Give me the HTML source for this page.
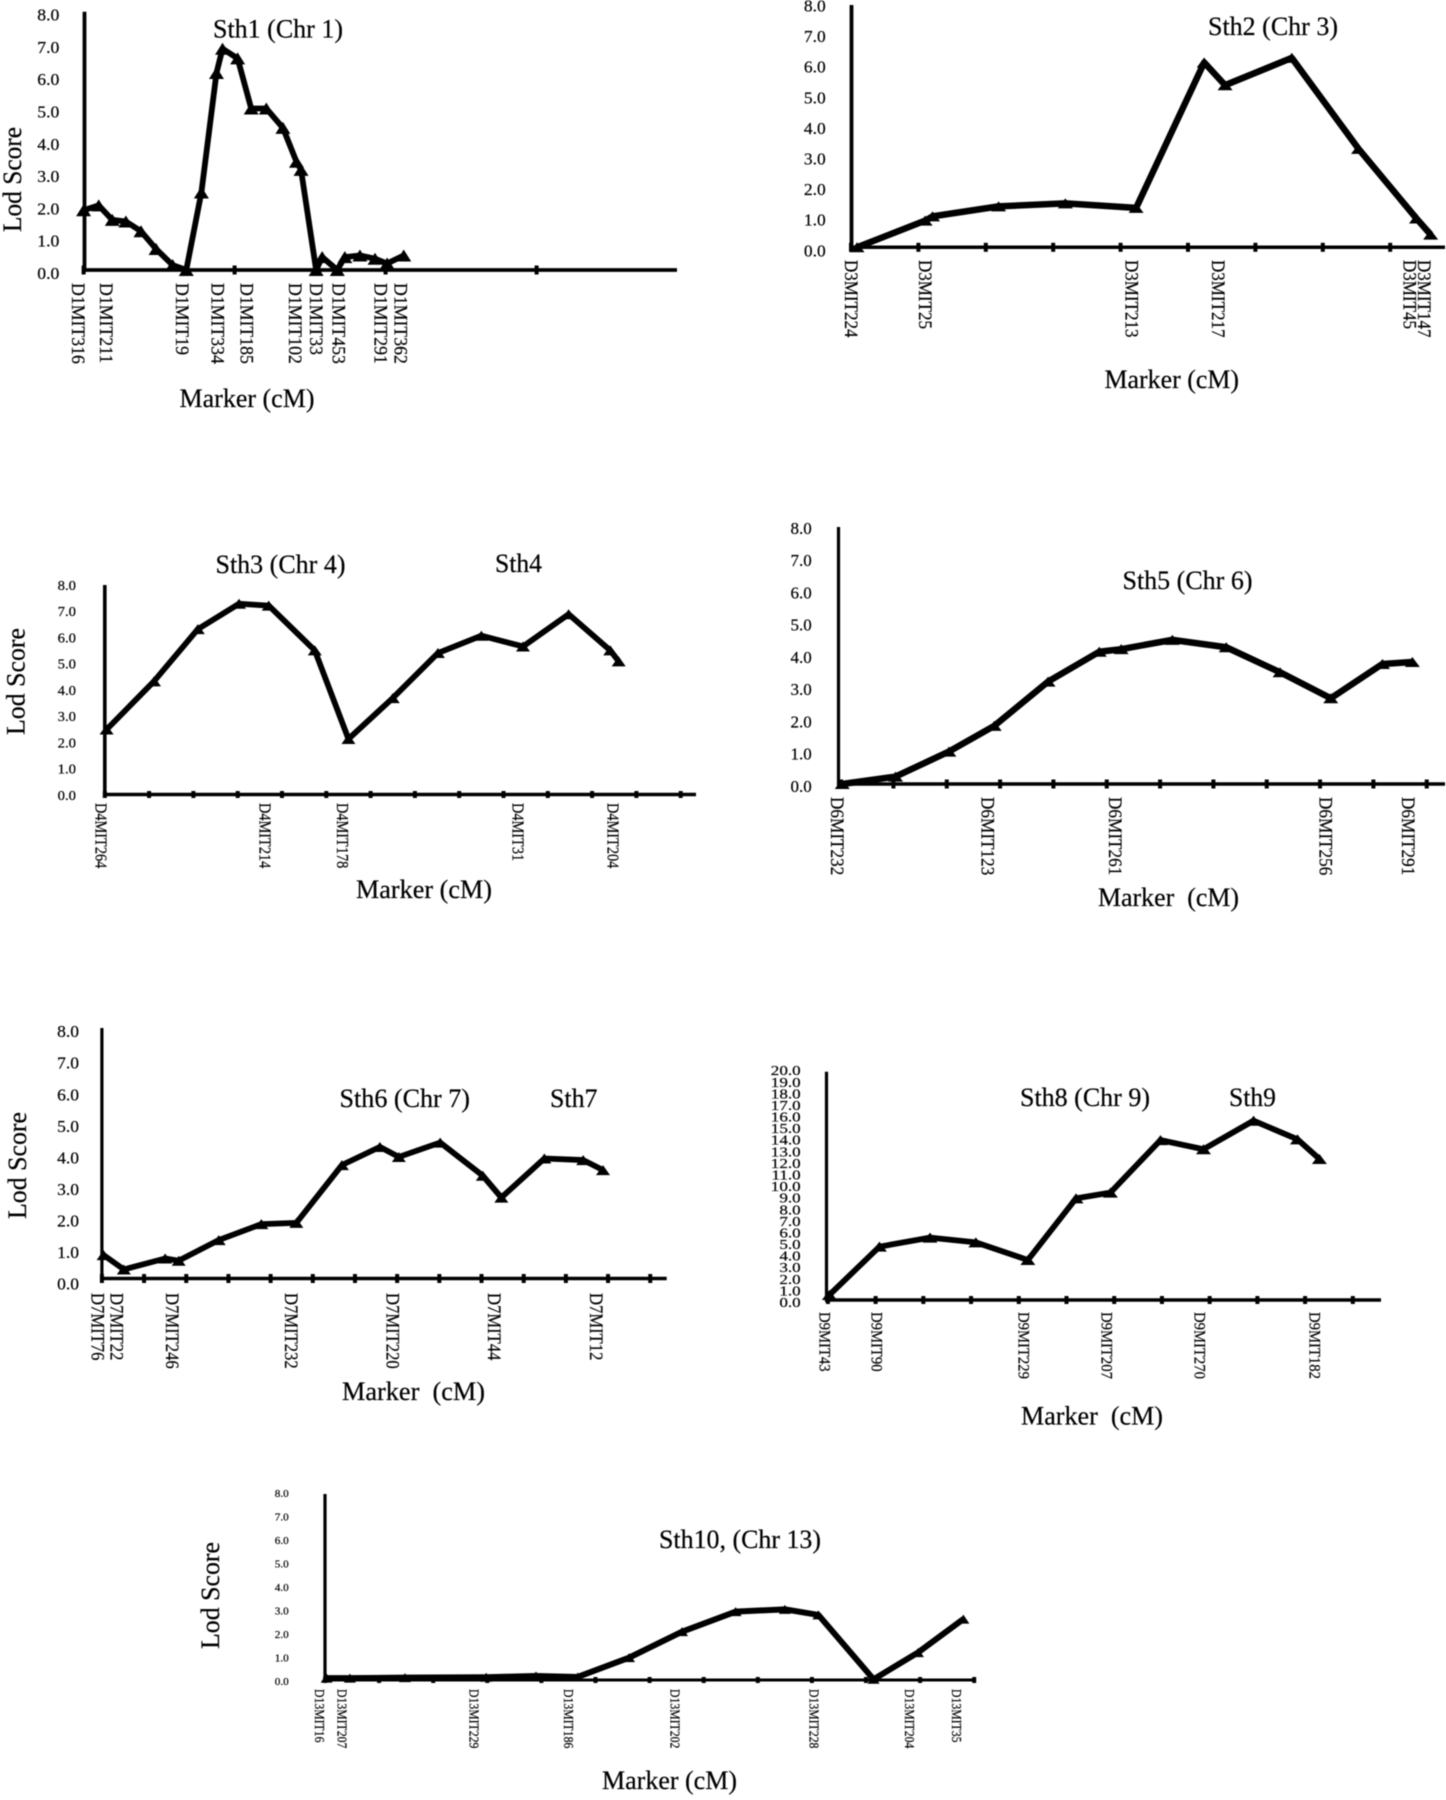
<!DOCTYPE html>
<html lang="en">
<head>
<meta charset="utf-8">
<title>Lod score plots for Sth loci</title>
<style>
  html, body { margin: 0; padding: 0; background: #fff; }
  #figure { display: block; width: 1446px; height: 1800px; filter: blur(0.4px); }
  text { font-family: "Liberation Serif", serif; fill: #000; stroke: #000; stroke-width: 0.2px; }
  .title, .axis-title { font-size: 26px; }
</style>
</head>
<body>
<svg id="figure" xmlns="http://www.w3.org/2000/svg" width="1446" height="1800" viewBox="0 0 1446 1800">
  <rect width="1446" height="1800" fill="#fff"/>

  <g id="panel-1">
    <text class="title" x="213" y="37.5" textLength="130" lengthAdjust="spacingAndGlyphs">Sth1 (Chr 1)</text>
    <text class="axis-title" x="179.5" y="407" textLength="135" lengthAdjust="spacingAndGlyphs">Marker (cM)</text>
    <text class="axis-title" transform="translate(21 179.5) rotate(-90)" text-anchor="middle" textLength="105" lengthAdjust="spacingAndGlyphs">Lod Score</text>
  </g>

  <g id="panel-2">
    <text class="title" x="1208" y="35" textLength="130" lengthAdjust="spacingAndGlyphs">Sth2 (Chr 3)</text>
    <text class="axis-title" x="1104.5" y="388" textLength="134.5" lengthAdjust="spacingAndGlyphs">Marker (cM)</text>
  </g>

  <g id="panel-3">
    <text class="title" x="215.5" y="573" textLength="130" lengthAdjust="spacingAndGlyphs">Sth3 (Chr 4)</text>
    <text class="title" x="495" y="572" textLength="47" lengthAdjust="spacingAndGlyphs">Sth4</text>
    <text class="axis-title" x="356" y="898" textLength="136" lengthAdjust="spacingAndGlyphs">Marker (cM)</text>
    <text class="axis-title" transform="translate(24.5 681.5) rotate(-90)" text-anchor="middle" textLength="107" lengthAdjust="spacingAndGlyphs">Lod Score</text>
  </g>

  <g id="panel-4">
    <text class="title" x="1122.5" y="589" textLength="130" lengthAdjust="spacingAndGlyphs">Sth5 (Chr 6)</text>
    <text class="axis-title" x="1098" y="906" textLength="141" lengthAdjust="spacingAndGlyphs">Marker &#160;(cM)</text>
  </g>

  <g id="panel-5">
    <text class="title" x="339.5" y="1107" textLength="130.5" lengthAdjust="spacingAndGlyphs">Sth6 (Chr 7)</text>
    <text class="title" x="550" y="1107" textLength="47.5" lengthAdjust="spacingAndGlyphs">Sth7</text>
    <text class="axis-title" x="342" y="1400" textLength="143" lengthAdjust="spacingAndGlyphs">Marker &#160;(cM)</text>
    <text class="axis-title" transform="translate(26 1165.5) rotate(-90)" text-anchor="middle" textLength="107" lengthAdjust="spacingAndGlyphs">Lod Score</text>
  </g>

  <g id="panel-6">
    <text class="title" x="1020" y="1106" textLength="130" lengthAdjust="spacingAndGlyphs">Sth8 (Chr 9)</text>
    <text class="title" x="1229" y="1106" textLength="47" lengthAdjust="spacingAndGlyphs">Sth9</text>
    <text class="axis-title" x="1021" y="1424.5" textLength="142" lengthAdjust="spacingAndGlyphs">Marker &#160;(cM)</text>
  </g>

  <g id="panel-7">
    <text class="title" x="659" y="1548" textLength="162" lengthAdjust="spacingAndGlyphs">Sth10, (Chr 13)</text>
    <text class="axis-title" x="602" y="1789" textLength="135" lengthAdjust="spacingAndGlyphs">Marker (cM)</text>
    <text class="axis-title" transform="translate(219 1595.5) rotate(-90)" text-anchor="middle" textLength="107" lengthAdjust="spacingAndGlyphs">Lod Score</text>
  </g>
</svg>

<script>
/* Shared y-axis tick labels */
const lodTicks8 = ['0.0','1.0','2.0','3.0','4.0','5.0','6.0','7.0','8.0'];
const lodTicks20 = ['0.0','1.0','2.0','3.0','4.0','5.0','6.0','7.0','8.0','9.0','10.0','11.0','12.0','13.0','14.0','15.0','16.0','17.0','18.0','19.0','20.0'];

/* Chr 1 */
const chr1Cm = [0, 1.0, 1.9, 2.8, 3.8, 4.8, 5.9, 6.8, 7.8, 8.8, 9.2, 10.2, 11.1, 12.1, 13.2, 14.1, 14.4, 15.4, 15.8, 16.8, 17.3, 18.3, 19.3, 20.1, 21.2];
const chr1Lod = [1.85, 2.0, 1.55, 1.5, 1.2, 0.65, 0.15, 0, 2.4, 6.1, 6.85, 6.55, 5.0, 5.0, 4.4, 3.35, 3.1, 0, 0.4, 0, 0.4, 0.45, 0.35, 0.2, 0.45];
const chr1Markers = ['D1MIT316','D1MIT211','D1MIT19','D1MIT334','D1MIT185','D1MIT102','D1MIT33','D1MIT453','D1MIT291','D1MIT362'];
const chr1MarkerCm = [-0.35, 1.48, 6.54, 8.88, 10.8, 14.0, 15.4, 16.9, 19.67, 21.0];

/* Chr 3 */
const chr3Cm = [0.9, 11, 12.1, 21.9, 31.8, 42.3, 52.4, 55.5, 65.4, 75.3, 83.9, 86];
const chr3Lod = [0, 0.88, 1.02, 1.35, 1.45, 1.3, 6.1, 5.35, 6.25, 3.25, 0.95, 0.42];
const chr3Markers = ['D3MIT224','D3MIT25','D3MIT213','D3MIT217','D3MIT45','D3MIT147'];
const chr3MarkerCm = [0, 11, 41.6, 54.5, 82.9, 85];

/* Chr 4 */
const chr4Cm = [0.4, 11.1, 21, 30.3, 37, 47.4, 55, 65, 75.2, 85, 94.4, 104.7, 114.1, 116];
const chr4Lod = [2.48, 4.32, 6.31, 7.28, 7.21, 5.5, 2.12, 3.68, 5.4, 6.06, 5.65, 6.88, 5.5, 5.08];
const chr4Markers = ['D4MIT264','D4MIT214','D4MIT178','D4MIT31','D4MIT204'];
const chr4MarkerCm = [-0.9, 36.2, 53.6, 93.3, 114.7];

/* Chr 6 */
const chr6Cm = [0.4, 10.4, 20.4, 28.9, 39, 48.6, 52.7, 62.3, 72.4, 82.5, 92, 101.7, 107.3];
const chr6Lod = [0, 0.23, 1.01, 1.81, 3.19, 4.12, 4.2, 4.49, 4.26, 3.48, 2.67, 3.74, 3.8];
const chr6Markers = ['D6MIT232','D6MIT123','D6MIT261','D6MIT256','D6MIT291'];
const chr6MarkerCm = [-0.6, 27.7, 51.6, 91, 106.5];

/* Chr 7 */
const chr7Cm = [0.4, 5.2, 15, 18.2, 27.7, 37.8, 46.1, 56.9, 65.9, 70.4, 80.2, 90.3, 94.7, 104.9, 114.1, 118.8];
const chr7Lod = [0.75, 0.29, 0.64, 0.57, 1.23, 1.74, 1.78, 3.63, 4.21, 3.89, 4.35, 3.29, 2.59, 3.84, 3.79, 3.47];
const chr7Markers = ['D7MIT76','D7MIT22','D7MIT246','D7MIT232','D7MIT220','D7MIT44','D7MIT12'];
const chr7MarkerCm = [-1.06, 3.5, 16.7, 44.8, 68.9, 93, 117.2];

/* Chr 9 */
const chr9Cm = [0.3, 10.8, 21.4, 31, 41.9, 52, 59.2, 69.7, 78.7, 89.2, 98.4, 103];
const chr9Lod = [0.44, 4.67, 5.46, 5.05, 3.5, 8.9, 9.4, 14.0, 13.2, 15.7, 14.07, 12.35];
const chr9Markers = ['D9MIT43','D9MIT90','D9MIT229','D9MIT207','D9MIT270','D9MIT182'];
const chr9MarkerCm = [-0.7, 10.2, 41, 58.4, 77.9, 102];

/* Chr 13 */
const chr13Cm = [0.3, 4.6, 14.8, 29.8, 39, 46.7, 56.2, 66, 75.9, 85, 91.2, 101.4, 109.6, 118];
const chr13Lod = [0.08, 0.08, 0.1, 0.12, 0.17, 0.13, 0.96, 2.08, 2.94, 3.04, 2.8, 0.03, 1.18, 2.62];
const chr13Markers = ['D13MIT16','D13MIT207','D13MIT229','D13MIT186','D13MIT202','D13MIT228','D13MIT204','D13MIT35'];
const chr13MarkerCm = [-1.06, 3.1, 27.5, 45, 64.7, 90.4, 108, 116.7];

const SVG_NS = 'http://www.w3.org/2000/svg';

function svgEl(tag, parent) {
  const el = document.createElementNS(SVG_NS, tag);
  parent.appendChild(el);
  return el;
}

function drawPanel(panelId, frame, cm, lod, markers, markerCm, lodTicks) {
  const root = document.getElementById(panelId);
  const xScale = function (c) { return frame.x0 + c * frame.pxPerCm; };
  const yScale = function (v) { return frame.y0 - v * frame.pxPerLod; };
  const yLabelScale = function (v) { return frame.y0 + frame.tickDy - v * frame.tickPx; };

  /* y axis */
  const yAxis = svgEl('line', root);
  
  
  yAxis.setAttribute('x1', frame.axisX);
  yAxis.setAttribute('x2', frame.axisX);
  yAxis.setAttribute('y1', frame.yTop);
  yAxis.setAttribute('y2', frame.y0 + 2);
  yAxis.setAttribute('stroke', '#000');
  yAxis.setAttribute('stroke-width', frame.axisWidth);

  /* x axis */
  const xAxis = svgEl('line', root);
  
  
  xAxis.setAttribute('x1', frame.axisX - 1.5);
  xAxis.setAttribute('x2', frame.xEnd);
  xAxis.setAttribute('y1', frame.y0);
  xAxis.setAttribute('y2', frame.y0);
  xAxis.setAttribute('stroke', '#000');
  xAxis.setAttribute('stroke-width', frame.xAxisWidth);

  /* x ticks every 10 cM */
  for (let c = 0; xScale(c) <= frame.xEnd; c += 10) {
    const tick = svgEl('line', root);
    
    
    tick.setAttribute('x1', xScale(c));
    tick.setAttribute('x2', xScale(c));
    tick.setAttribute('y1', frame.y0 - frame.tickLen);
    tick.setAttribute('y2', frame.y0 + frame.tickLen);
    tick.setAttribute('stroke', '#000');
    tick.setAttribute('stroke-width', 4);
  }

  /* y tick labels */
  lodTicks.forEach(function (label) {
    const t = svgEl('text', root);
    
    
    t.setAttribute('text-anchor', 'end');
    t.setAttribute('font-size', frame.tickFont);
    t.setAttribute('transform', 'translate(' + frame.tickRight + ' ' + yLabelScale(parseFloat(label)) + ') scale(' + frame.tickScale + ' 1)');
    t.textContent = label;
  });

  /* marker labels */
  markers.forEach(function (name, i) {
    const t = svgEl('text', root);
    
    
    t.setAttribute('font-size', frame.labelFont);
    const baseX = xScale(markerCm[i]) - frame.labelFont * 0.33;
    t.setAttribute('transform', 'translate(' + baseX + ' ' + frame.labelTop + ') rotate(90) scale(' + frame.labelScale + ' 1)');
    t.textContent = name;
  });

  /* lod curve */
  const points = cm.map(function (c, i) { return xScale(c) + ',' + yScale(lod[i]); }).join(' ');
  const curve = svgEl('polyline', root);
  
  
  curve.setAttribute('points', points);
  curve.setAttribute('fill', 'none');
  curve.setAttribute('stroke', '#000');
  curve.setAttribute('stroke-width', frame.lineWidth);
  curve.setAttribute('stroke-linejoin', 'round');

  /* triangle markers */
  cm.forEach(function (c, i) {
    const px = xScale(c);
    const py = yScale(lod[i]);
    const w = frame.triWidth / 2;
    const h = frame.triHeight / 2;
    const tri = svgEl('polygon', root);
    
    
    tri.setAttribute('points', px + ',' + (py - h) + ' ' + (px + w) + ',' + (py + h) + ' ' + (px - w) + ',' + (py + h));
    tri.setAttribute('fill', '#000');
  });
}

drawPanel('panel-1', { axisX: 84.5, x0: 83.6, pxPerCm: 15.1, y0: 270, pxPerLod: 32.3, yTop: 11.7, xEnd: 677, axisWidth: 3.8, xAxisWidth: 3.8, tickLen: 4.5, lineWidth: 5.8, triWidth: 15, triHeight: 12, tickFont: 17, tickPx: 32.3, tickRight: 59.4, tickDy: 9, tickScale: 1.04, labelFont: 18.5, labelScale: 0.96, labelTop: 283 }, chr1Cm, chr1Lod, chr1Markers, chr1MarkerCm, lodTicks8);
drawPanel('panel-2', { axisX: 851.5, x0: 851, pxPerCm: 6.74, y0: 247.3, pxPerLod: 30.3, yTop: 5, xEnd: 1445, axisWidth: 3.8, xAxisWidth: 3.5, tickLen: 4.5, lineWidth: 6.5, triWidth: 15, triHeight: 10, tickFont: 17, tickPx: 30.6, tickRight: 825.7, tickDy: 9, tickScale: 1.03, labelFont: 18.5, labelScale: 0.92, labelTop: 260 }, chr3Cm, chr3Lod, chr3Markers, chr3MarkerCm, lodTicks8);
drawPanel('panel-3', { axisX: 104.8, x0: 104.8, pxPerCm: 4.43, y0: 794.5, pxPerLod: 26.2, yTop: 585, xEnd: 696, axisWidth: 3.6, xAxisWidth: 3.6, tickLen: 3.5, lineWidth: 5.8, triWidth: 14, triHeight: 10, tickFont: 14, tickPx: 26.25, tickRight: 76, tickDy: 5.3, tickScale: 1.05, labelFont: 16.5, labelScale: 0.87, labelTop: 803 }, chr4Cm, chr4Lod, chr4Markers, chr4MarkerCm, lodTicks8);
drawPanel('panel-4', { axisX: 838.5, x0: 840.1, pxPerCm: 5.333, y0: 784, pxPerLod: 32.1, yTop: 527, xEnd: 1445, axisWidth: 3.2, xAxisWidth: 3.4, tickLen: 4.5, lineWidth: 6.5, triWidth: 15, triHeight: 10, tickFont: 17, tickPx: 32.25, tickRight: 811.7, tickDy: 7.8, tickScale: 1, labelFont: 18.5, labelScale: 0.93, labelTop: 797 }, chr6Cm, chr6Lod, chr6Markers, chr6MarkerCm, lodTicks8);
drawPanel('panel-5', { axisX: 101.9, x0: 101.9, pxPerCm: 4.218, y0: 1278.5, pxPerLod: 31.25, yTop: 1028, xEnd: 666.7, axisWidth: 3.2, xAxisWidth: 3.4, tickLen: 4.5, lineWidth: 5.8, triWidth: 14, triHeight: 10, tickFont: 17, tickPx: 31.54, tickRight: 79, tickDy: 11, tickScale: 1.03, labelFont: 18.5, labelScale: 0.9, labelTop: 1293 }, chr7Cm, chr7Lod, chr7Markers, chr7MarkerCm, lodTicks8);
drawPanel('panel-6', { axisX: 826.5, x0: 827.9, pxPerCm: 4.772, y0: 1300, pxPerLod: 11.42, yTop: 1071.7, xEnd: 1381, axisWidth: 3.2, xAxisWidth: 3.6, tickLen: 4, lineWidth: 5.8, triWidth: 15, triHeight: 10, tickFont: 14, tickPx: 11.59, tickRight: 800.7, tickDy: 7, tickScale: 1.22, labelFont: 16, labelScale: 0.92, labelTop: 1312 }, chr9Cm, chr9Lod, chr9Markers, chr9MarkerCm, lodTicks20);
drawPanel('panel-7', { axisX: 325, x0: 325, pxPerCm: 5.41, y0: 1680, pxPerLod: 23.25, yTop: 1494, xEnd: 975, axisWidth: 3.2, xAxisWidth: 3, tickLen: 3, lineWidth: 6, triWidth: 12, triHeight: 9, tickFont: 11, tickPx: 23.54, tickRight: 288.8, tickDy: 5.2, tickScale: 1.02, labelFont: 13.5, labelScale: 0.87, labelTop: 1689 }, chr13Cm, chr13Lod, chr13Markers, chr13MarkerCm, lodTicks8);
</script>
</body>
</html>
